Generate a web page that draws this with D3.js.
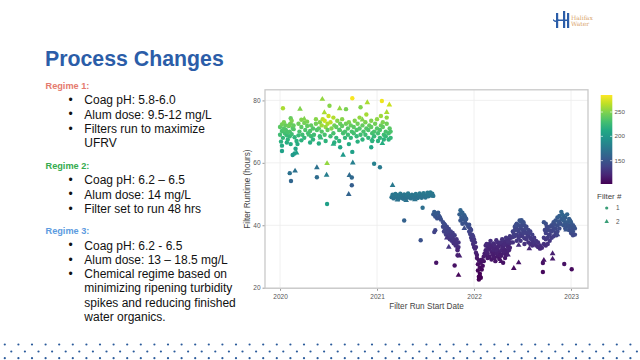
<!DOCTYPE html>
<html><head><meta charset="utf-8">
<script src="https://cdn.jsdelivr.net/npm/d3@7"></script>
<style>body{margin:0;background:#fff}svg{display:block;font-family:"Liberation Sans",Arial,sans-serif}</style>
</head><body><svg id="c" width="640" height="360"></svg>
<script>
// ---------- DATA (year as decimal, runtime hours, colour value) ----------
const xTicks = [2020, 2021, 2022, 2023];
const yTicks = [20, 40, 60, 80];
const colorTicks = [150, 200, 250];
const filterLabels = ["1", "2"];

const regime1Filter1 = [
[2020.03,77.5,262],[2020.51,78.3,252],[2020.68,77.2,248],[2020.745,80.7,283],[2020.83,77.8,250],[2021.05,79.8,280],[2020.11,74.3,242],
[2020.00,71.5,238],[2020.00,69.0,228],[2020.01,66.8,218],
[2020.02,72.3,245],[2020.02,70.2,232],[2020.03,68.0,224],[2020.02,65.5,214],
[2020.04,71.0,236],[2020.05,69.5,230],[2020.04,73.0,248],
[2020.06,70.5,234],[2020.07,68.8,226],[2020.06,72.0,242],[2020.07,66.5,216],
[2020.08,69.8,232],[2020.09,71.8,240],[2020.08,67.5,220],
[2020.10,70.0,233],[2020.11,72.5,244],[2020.10,68.5,225],[2020.11,66.0,214],
[2020.12,69.2,229],[2020.13,71.2,237],[2020.12,73.5,248],
[2020.14,70.8,235],[2020.15,68.2,222],[2020.14,72.0,241],
[2020.17,67.0,218],[2020.16,64.5,208],[2020.18,66.0,214],
[2020.19,72.5,244],[2020.20,70.0,232],[2020.19,68.8,226],
[2020.22,73.8,250],[2020.22,71.5,238],[2020.23,69.0,228],[2020.22,67.2,219],
[2020.25,72.8,246],[2020.26,70.5,234],[2020.25,68.0,223],
[2020.28,71.8,240],[2020.29,69.5,230],[2020.28,73.2,248],
[2020.31,70.2,233],[2020.32,68.5,225],[2020.31,66.5,216],[2020.32,72.0,241],
[2020.34,71.0,236],[2020.35,69.0,228],[2020.34,67.5,220],
[2020.37,72.5,245],[2020.38,70.5,234],[2020.37,74.0,252],
[2020.40,71.0,238],[2020.41,68.5,226],[2020.40,66.2,216],[2020.41,73.0,250],
[2020.43,72.0,258],[2020.44,74.0,266],[2020.43,70.0,236],
[2020.46,73.5,270],[2020.47,71.5,256],[2020.46,69.0,232],[2020.47,67.0,220],
[2020.49,72.5,262],[2020.50,75.0,270],[2020.49,70.5,240],
[2020.52,73.0,266],[2020.53,71.0,250],[2020.52,68.5,228],
[2020.55,74.5,264],[2020.56,72.0,246],[2020.55,69.5,232],[2020.56,66.5,218],
[2020.58,71.5,240],[2020.59,73.5,252],[2020.58,68.0,224],
[2020.61,70.5,235],[2020.62,72.5,244],[2020.61,67.0,220],[2020.62,65.0,210],
[2020.64,71.8,240],[2020.65,69.5,230],[2020.64,74.0,252],
[2020.67,70.0,232],[2020.68,72.5,244],[2020.67,68.0,224],
[2020.70,71.0,237],[2020.71,73.0,248],[2020.70,69.0,228],[2020.71,66.0,214],
[2020.73,72.0,242],[2020.74,70.0,232],[2020.73,68.0,223],
[2020.76,71.5,239],[2020.77,73.5,250],[2020.76,69.5,230],
[2020.79,70.5,234],[2020.80,72.5,245],[2020.79,68.5,225],[2020.80,66.8,218],
[2020.82,71.0,236],[2020.83,69.0,228],[2020.82,74.5,255],
[2020.85,72.0,242],[2020.86,70.0,232],[2020.85,67.5,220],
[2020.88,73.0,248],[2020.89,71.0,237],[2020.88,69.0,228],[2020.89,75.5,260],
[2020.91,70.5,234],[2020.92,72.0,242],[2020.91,68.0,223],
[2020.94,71.5,240],[2020.95,69.5,230],[2020.94,73.5,250],[2020.95,67.0,219],
[2020.97,70.0,232],[2020.98,72.5,245],[2020.97,68.5,225],
[2021.00,71.0,237],[2021.01,69.5,230],[2021.00,74.0,254],[2021.01,67.0,219],
[2021.03,70.5,234],[2021.04,72.0,243],[2021.03,68.0,223],[2021.04,75.0,258],
[2021.06,71.5,240],[2021.07,69.0,228],[2021.06,73.0,249],[2021.07,67.5,220],
[2021.09,70.0,232],[2021.10,72.5,245],[2021.09,68.5,225],[2021.10,74.5,255],
[2021.12,69.5,230],[2021.13,71.0,238],[2021.12,67.5,220],
[2021.14,70.0,233],[2021.14,68.0,224],
[2020.02,63.8,206],[2020.15,63.0,203],[2020.13,62.5,200],[2020.745,63.5,205],[2020.94,65.0,210],
[2020.97,59.7,182],[2021.03,58.6,176],[2020.10,56.7,170],[2020.113,54.2,162],[2020.38,55.4,166],
[2020.74,55.3,163],[2020.74,52.8,156],[2020.485,46.8,205]
];
const regime1Filter2 = [
[2020.436,80.4,255],[2020.206,77.2,250],[2020.615,77.4,255],[2020.90,79.3,262],[2020.457,76.1,262],
[2021.127,78.6,270],[2021.10,76.2,262],[2021.055,66.2,215],[2020.17,63.2,205],[2020.65,62.5,200],
[2020.485,59.8,255],[2020.75,60.0,180],[2020.155,57.4,170],[2020.38,58.5,170],[2020.48,56.1,180],
[2020.715,56.0,165],[2020.708,49.9,160],[2020.09,72.0,245],[2020.30,69.0,230],[2020.62,70.5,235],
[2020.85,73.8,250],[2020.25,74.0,250],[2020.55,66.0,215],[2020.95,67.5,220],[2020.42,68.0,225]
];
const regime2Filter1 = [
[2021.15,49.0,172],[2021.16,49.8,174],[2021.17,48.6,171],[2021.18,49.4,173],[2021.19,50.0,175],
[2021.20,48.9,172],[2021.21,49.6,174],[2021.22,48.4,170],[2021.23,49.2,173],[2021.24,50.1,175],
[2021.25,48.8,172],[2021.26,49.5,173],[2021.27,48.5,171],[2021.28,49.9,174],[2021.29,49.1,172],
[2021.30,48.7,171],[2021.31,49.6,174],[2021.32,50.2,176],[2021.33,48.9,172],[2021.34,49.4,173],
[2021.35,48.6,171],[2021.36,49.8,174],[2021.37,49.2,173],[2021.38,48.8,172],[2021.39,49.6,174],
[2021.40,50.0,175],[2021.41,49.0,172],[2021.42,48.7,171],[2021.43,49.5,173],[2021.44,50.2,176],
[2021.45,49.1,172],[2021.46,48.8,172],[2021.47,49.7,174],[2021.48,50.3,176],[2021.49,49.2,173],
[2021.50,48.9,172],[2021.51,49.6,174],[2021.52,50.4,176],[2021.53,49.3,173],[2021.54,49.9,175],
[2021.55,50.5,177],[2021.56,49.5,174],[2021.57,50.1,175],[2021.58,49.4,173],
[2021.47,45.6,168],[2021.28,41.5,158],[2021.45,35.2,148]
];
const regime2Filter2 = [
[2021.16,52.8,176],[2021.21,48.1,172],[2021.30,48.0,171],[2021.39,48.2,172]
];
const regime3Filter1 = [
[2021.58,43.5,152],[2021.59,44.3,155],[2021.60,42.8,150],[2021.61,43.8,153],[2021.62,42.2,148],[2021.63,44.0,154],
[2021.64,43.0,150],[2021.65,42.5,148],[2021.66,41.8,146],[2021.60,38.4,140],[2021.59,37.8,138],
[2021.68,41.0,145],[2021.68,39.5,141],[2021.69,38.0,137],[2021.70,40.2,143],[2021.70,38.5,139],[2021.71,37.0,135],
[2021.72,39.5,141],[2021.72,37.8,137],[2021.73,36.2,133],[2021.74,38.8,140],[2021.74,37.0,135],[2021.75,35.5,131],
[2021.76,38.0,138],[2021.76,36.5,134],[2021.77,35.0,130],[2021.78,37.5,136],[2021.78,35.8,132],[2021.79,34.2,128],
[2021.80,36.8,135],[2021.80,35.0,130],[2021.81,33.5,126],[2021.82,35.5,131],[2021.82,34.0,128],[2021.83,32.5,124],
[2021.84,34.5,129],[2021.84,33.0,125],[2021.83,32.0,122],[2021.83,30.4,118],
[2021.69,40.5,144],[2021.71,39.0,140],[2021.73,38.0,137],[2021.75,36.8,134],[2021.77,36.5,134],[2021.79,35.5,131],[2021.81,34.8,129],
[2021.61,28.0,112],[2021.80,27.1,110],
[2021.85,43.5,156],[2021.86,44.8,162],[2021.87,42.5,154],[2021.88,44.0,160],[2021.89,41.8,152],[2021.90,43.2,157],
[2021.91,40.8,149],[2021.92,42.0,152],[2021.93,40.2,147],[2021.88,40.5,148],[2021.86,41.5,151],
[2021.87,43.8,159],[2021.89,42.8,155],[2021.91,42.5,154],
[2021.94,39.5,145],[2021.95,38.0,140],[2021.96,37.2,137],[2021.97,36.0,133],[2021.98,35.2,130],[2021.99,34.0,127],
[2022.00,33.0,124],[2022.01,32.5,122],[2022.02,31.2,119],[2022.03,30.5,116],[2021.96,39.0,143],[2021.98,37.0,136],[2022.00,35.5,131],
[2021.95,40.2,147],[2021.97,38.5,140],[2021.99,36.5,134],[2022.01,34.5,128],[2022.02,33.0,124],
[2022.03,29.5,113],[2022.04,27.5,109],[2022.04,25.5,105],[2022.05,23.5,102],[2022.05,22.6,100],[2022.06,24.5,103],
[2022.06,26.5,107],[2022.07,28.0,110],[2022.07,23.2,101],[2022.08,25.8,106],[2022.08,29.0,112],[2022.09,27.0,108],
[2022.10,30.0,114],[2022.10,28.5,111],[2022.11,31.0,116],[2022.05,28.8,111],
[2022.12,32.0,120],[2022.12,30.5,116],[2022.12,33.5,123],
[2022.14,33.0,122],[2022.14,31.0,118],[2022.14,29.5,114],
[2022.16,34.0,124],[2022.16,32.5,121],[2022.16,30.0,115],
[2022.18,33.5,123],[2022.18,31.5,119],[2022.18,29.0,113],
[2022.20,34.2,125],[2022.20,32.0,120],[2022.20,30.5,116],
[2022.22,33.0,122],[2022.22,31.0,118],[2022.22,28.5,112],
[2022.24,34.5,125],[2022.24,32.5,121],[2022.24,30.0,115],
[2022.26,33.8,124],[2022.26,31.5,119],[2022.26,29.2,113],
[2022.28,34.0,124],[2022.28,32.0,120],[2022.28,30.2,116],
[2022.30,35.0,127],[2022.30,33.0,122],[2022.30,31.0,118],[2022.30,28.0,111],
[2022.32,34.5,125],[2022.32,32.2,120],[2022.32,29.5,114],
[2022.34,35.2,127],[2022.34,33.5,123],[2022.34,31.5,119],
[2022.36,35.5,128],[2022.36,34.0,124],[2022.36,32.0,120],
[2022.38,36.0,130],[2022.38,34.5,126],
[2022.13,31.5,119],[2022.13,34.0,124],[2022.15,32.2,120],[2022.15,29.8,114],[2022.17,33.2,122],[2022.17,35.0,127],
[2022.19,30.8,117],[2022.19,32.8,121],[2022.21,33.6,123],[2022.21,29.5,114],[2022.23,32.0,120],[2022.23,35.2,127],
[2022.25,31.0,118],[2022.25,33.2,122],[2022.27,34.5,126],[2022.27,30.5,116],[2022.29,33.0,122],[2022.29,35.5,128],
[2022.31,31.5,119],[2022.31,33.8,124],[2022.33,30.5,116],[2022.33,36.0,130],[2022.35,33.0,122],[2022.35,34.8,127],
[2022.37,32.8,121],[2022.37,36.5,131],
[2022.40,36.2,133],[2022.40,38.0,138],[2022.40,34.5,129],
[2022.42,38.5,139],[2022.42,36.5,134],[2022.42,39.5,142],
[2022.44,39.0,141],[2022.44,37.0,135],[2022.44,40.5,145],[2022.44,35.0,131],
[2022.46,40.0,144],[2022.46,38.0,138],[2022.46,36.0,133],
[2022.48,41.2,148],[2022.48,39.0,141],[2022.48,37.2,136],[2022.48,35.0,131],[2022.49,41.6,150],
[2022.50,40.5,145],[2022.50,38.5,139],[2022.50,36.5,134],
[2022.52,40.0,144],[2022.52,38.0,138],[2022.52,35.8,133],[2022.52,34.0,128],
[2022.54,39.5,142],[2022.54,37.5,137],[2022.54,35.5,132],
[2022.56,38.5,139],[2022.56,36.5,134],[2022.56,34.5,129],
[2022.58,38.0,138],[2022.58,36.0,133],[2022.58,34.0,128],
[2022.60,37.0,136],[2022.60,35.2,131],[2022.60,33.5,127],
[2022.41,37.2,136],[2022.43,40.0,144],[2022.45,38.5,139],[2022.47,41.5,149],[2022.47,36.5,134],[2022.49,39.8,143],
[2022.51,37.5,137],[2022.51,41.0,147],[2022.53,39.0,141],[2022.55,36.5,134],[2022.57,37.5,137],[2022.59,35.5,132],[2022.61,34.5,129],
[2022.62,36.0,133],[2022.62,34.2,129],[2022.64,35.0,131],[2022.64,33.5,127],
[2022.66,34.5,129],[2022.66,33.0,125],[2022.68,33.5,127],[2022.68,32.5,124],[2022.70,32.8,125],
[2022.71,25.0,106],[2022.71,27.9,110],[2022.93,27.6,110],[2023.007,25.9,107],
[2022.72,34.0,128],[2022.72,36.0,133],[2022.72,41.0,148],
[2022.74,35.5,132],[2022.74,37.5,137],[2022.74,40.5,146],[2022.74,33.5,126],
[2022.76,36.0,134],[2022.76,38.5,140],[2022.76,34.0,128],
[2022.78,37.0,136],[2022.78,39.5,143],[2022.78,35.0,131],
[2022.80,38.0,139],[2022.80,36.0,134],[2022.80,40.0,145],
[2022.82,38.5,141],[2022.82,36.5,135],[2022.82,41.0,148],
[2022.84,39.0,143],[2022.84,37.5,138],[2022.84,41.5,150],
[2022.86,40.0,146],[2022.86,38.0,140],[2022.86,42.5,154],
[2022.88,41.0,150],[2022.88,39.0,144],[2022.88,43.0,157],
[2022.90,44.3,163],[2022.90,42.0,155],
[2022.73,38.5,139],[2022.75,39.5,142],[2022.77,37.0,136],[2022.79,38.2,139],[2022.81,39.5,143],[2022.83,40.2,145],
[2022.85,36.8,136],[2022.87,41.2,150],[2022.89,40.5,148],
[2022.92,43.0,160],[2022.92,41.5,155],[2022.92,40.0,150],
[2022.94,42.5,158],[2022.94,40.8,153],[2022.94,39.0,147],
[2022.96,43.5,161],[2022.96,41.0,154],
[2022.98,42.0,157],[2022.98,40.0,150],[2022.98,38.5,146],
[2023.00,41.0,154],[2023.00,39.5,149],[2023.00,37.5,143],
[2023.02,40.0,151],[2023.02,38.0,145],[2023.02,36.8,141],
[2023.04,39.0,148],[2023.04,37.0,142],
[2022.91,43.5,161],[2022.93,42.0,157],[2022.95,40.0,151],[2022.97,39.5,149],[2022.99,41.5,155],[2023.01,38.5,146],[2023.03,39.5,149]
];
const regime3Filter2 = [
[2021.74,33.0,130],[2021.84,24.0,105],[2022.41,26.2,108],[2022.46,28.0,112],[2022.72,28.8,112],
[2022.81,29.2,115],[2022.81,30.9,118],[2021.72,36.0,130],[2021.85,30.2,118],[2022.20,29.8,115],
[2022.28,28.4,110],[2022.46,33.6,125],[2022.57,32.5,122],[2022.86,37.0,140],[2022.95,38.5,150],
[2021.90,39.0,145],[2022.06,24.0,102],[2022.35,30.5,118]
];

// slide text
const titleText = "Process Changes";
const regimeHeads = ["Regime 1:", "Regime 2:", "Regime 3:"];
const regime1Bullets = [["Coag pH: 5.8-6.0"], ["Alum dose: 9.5-12 mg/L"], ["Filters run to maximize", "UFRV"]];
const regime2Bullets = [["Coag pH: 6.2 \u2013 6.5"], ["Alum dose: 14 mg/L"], ["Filter set to run 48 hrs"]];
const regime3Bullets = [["Coag pH: 6.2 - 6.5"], ["Alum dose: 13 \u2013 18.5 mg/L"], ["Chemical regime based on", "minimizing ripening turbidity", "spikes and reducing finished", "water organics."]];

// ---------- DRAW ----------
const svg = d3.select("#c");
const blue = "#2b5da8";

// title
svg.append("text").attr("x", 45).attr("y", 66).attr("font-size", 21.3).attr("font-weight", "bold")
  .attr("fill", blue).text(titleText);

// logo
const logo = svg.append("g").attr("fill", blue);
logo.append("path").attr("d", "M556,13 h2.2 v15 h-2.2z M563,11 h2.2 v17 h-2.2z M567,13 h2.2 v15 h-2.2z M553,19 q3,3 6,0 l0,1.6 q-3,3 -6,0z M558,19.5 h10 v1.6 h-10z");
svg.append("text").attr("x", 571).attr("y", 19.5).attr("font-size", 6).attr("font-family", "DejaVu Serif")
  .attr("fill", "#d9a46b").text("Halifax");
svg.append("text").attr("x", 571).attr("y", 26).attr("font-size", 6).attr("font-family", "DejaVu Serif")
  .attr("fill", "#d9a46b").text("Water");

// bullets
const headColors = ["#e57a6e", "#35ab4f", "#5d9be0"];
const blocks = [regime1Bullets, regime2Bullets, regime3Bullets];
const blockStart = [85.7, 165.7, 231];
const lineH = 14.25;
blocks.forEach((b, i) => {
  let yc = blockStart[i];
  svg.append("text").attr("x", 45.5).attr("y", yc + 3.3).attr("font-size", 9.2).attr("font-weight", "bold")
    .attr("fill", headColors[i]).text(regimeHeads[i]);
  b.forEach(lines => {
    lines.forEach((ln, j) => {
      yc += lineH;
      if (j === 0) svg.append("text").attr("x", 68.5).attr("y", yc + 4.2).attr("font-size", 12).attr("fill", "#111").text("\u2022");
      svg.append("text").attr("x", 84.3).attr("y", yc + 4.3).attr("font-size", 12).attr("fill", "#111").text(ln);
    });
  });
});

// bottom dots
const dotRows = [344.5, 351.5, 358.2];
const dotG = svg.append("g").attr("fill", "#2a5a9a");
dotRows.forEach((ry, r) => {
  const off = r === 1 ? 11.3 : 4.8;
  for (let cx = off; cx < 640; cx += 13.6) dotG.append("circle").attr("cx", cx).attr("cy", ry).attr("r", 1.1);
});

// chart
const L = 265, R = 588, T = 89.8, B = 288.3;
const x = d3.scaleLinear().domain([2019.845, 2023.175]).range([L, R]);
const y = d3.scaleLinear().domain([19.8, 83.4]).range([B, T]);
const color = d3.scaleSequential(d3.interpolateViridis).domain([102, 285]);

// grid
const grid = svg.append("g");
grid.selectAll("line.gx").data(xTicks).join("line").attr("x1", d => x(d)).attr("x2", d => x(d))
  .attr("y1", T).attr("y2", B).attr("stroke", "#ececec").attr("stroke-width", 0.8);
grid.selectAll("line.gy").data(yTicks).join("line").attr("y1", d => y(d)).attr("y2", d => y(d))
  .attr("x1", L).attr("x2", R).attr("stroke", "#ececec").attr("stroke-width", 0.8);

// axes
const axFont = "'Liberation Sans', Arial, sans-serif";
const gx = svg.append("g").attr("transform", `translate(0,${B})`)
  .call(d3.axisBottom(x).tickValues(xTicks).tickFormat(d3.format("d")).tickSize(2.5).tickPadding(4));
const gy = svg.append("g").attr("transform", `translate(${L},0)`)
  .call(d3.axisLeft(y).tickValues(yTicks).tickSize(2.5).tickPadding(2));
[gx, gy].forEach(g => {
  g.select(".domain").remove();
  g.selectAll(".tick line").attr("stroke", "#999");
  g.selectAll(".tick text").attr("fill", "#555").attr("font-size", 6.5).attr("font-family", axFont);
});

// panel border
svg.append("rect").attr("x", L).attr("y", T).attr("width", R - L).attr("height", B - T)
  .attr("fill", "none").attr("stroke", "#c9c9c9").attr("stroke-width", 1.3);

// points
const plot = svg.append("g");
const tri = d3.symbol().type(d3.symbolTriangle).size(14);
function circles(data) {
  plot.append("g").selectAll("circle").data(data).join("circle")
    .attr("cx", d => x(d[0])).attr("cy", d => y(d[1])).attr("r", 2.2).attr("fill", d => color(d[2]));
}
function triangles(data) {
  plot.append("g").selectAll("path").data(data).join("path")
    .attr("transform", d => `translate(${x(d[0])},${y(d[1])})`).attr("d", tri).attr("fill", d => color(d[2]));
}
circles(regime1Filter1); triangles(regime1Filter2);
circles(regime2Filter1); triangles(regime2Filter2);
circles(regime3Filter1); triangles(regime3Filter2);

// axis titles
svg.append("text").attr("x", (L + R) / 2).attr("y", 309).attr("text-anchor", "middle")
  .attr("font-size", 8.2).attr("font-family", axFont).attr("fill", "#444").text("Filter Run Start Date");
svg.append("text").attr("transform", `translate(250,${(T + B) / 2}) rotate(-90)`).attr("text-anchor", "middle")
  .attr("font-size", 8.2).attr("font-family", axFont).attr("fill", "#444").text("Filter Runtime (hours)");

// colour bar
const cb = d3.scaleLinear().domain([102, 285]).range([184, 95]);
const defs = svg.append("defs");
const grad = defs.append("linearGradient").attr("id", "vir").attr("x1", 0).attr("x2", 0).attr("y1", 1).attr("y2", 0);
d3.range(0, 1.0001, 0.1).forEach(t => grad.append("stop").attr("offset", t).attr("stop-color", d3.interpolateViridis(t)));
svg.append("rect").attr("x", 600.7).attr("y", 95).attr("width", 11.6).attr("height", 89).attr("fill", "url(#vir)");
const cbt = svg.append("g");
cbt.selectAll("line").data(colorTicks).join("line").attr("x1", 600.7).attr("x2", 603).attr("y1", d => cb(d)).attr("y2", d => cb(d)).attr("stroke", "#fff").attr("stroke-width", 0.6);
cbt.selectAll("line.r").data(colorTicks).join("line").attr("x1", 610).attr("x2", 612.3).attr("y1", d => cb(d)).attr("y2", d => cb(d)).attr("stroke", "#fff").attr("stroke-width", 0.6);
cbt.selectAll("text").data(colorTicks).join("text").attr("x", 614.5).attr("y", d => cb(d) + 2)
  .attr("font-size", 6.2).attr("font-family", axFont).attr("fill", "#555").text(d => d);

// legend
svg.append("text").attr("x", 597).attr("y", 199).attr("font-size", 8).attr("font-family", axFont).attr("fill", "#444").text("Filter #");
const legY = [208, 221.7];
const legColor = "#3a9e78";
svg.append("circle").attr("cx", 606.7).attr("cy", legY[0]).attr("r", 1.6).attr("fill", legColor);
svg.append("path").attr("transform", `translate(606.7,${legY[1]})`).attr("d", d3.symbol().type(d3.symbolTriangle).size(9)).attr("fill", legColor);
filterLabels.forEach((t, i) => svg.append("text").attr("x", 616).attr("y", legY[i] + 2.2).attr("font-size", 6.4)
  .attr("font-family", axFont).attr("fill", "#555").text(t));
</script></body></html>
